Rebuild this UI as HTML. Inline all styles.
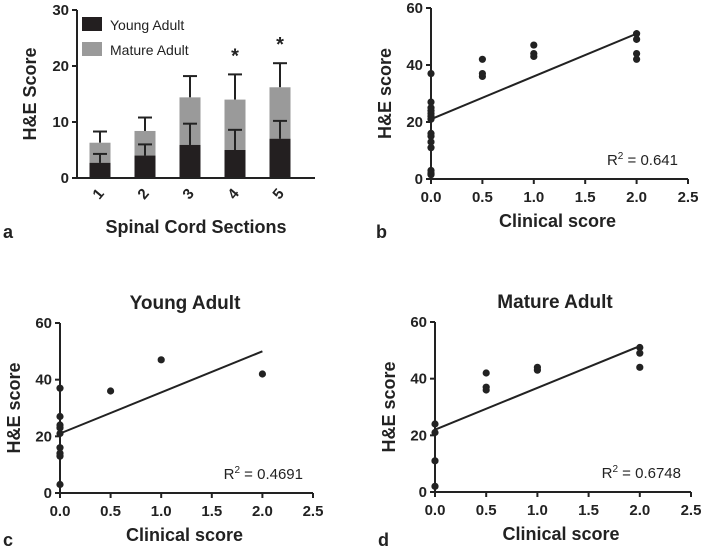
<!DOCTYPE html>
<html><head><meta charset="utf-8"><style>
body{margin:0;background:#fff;}
svg{display:block;font-family:"Liberation Sans",Arial,sans-serif;}
.tk{font-size:15px;font-weight:bold;fill:#222;}
.at{font-size:18px;font-weight:bold;fill:#222;}
</style></head><body>
<svg id="fig" width="702" height="553" viewBox="0 0 702 553"></svg>
<script>
const barCats=["1","2","3","4","5"];
const youngMean=[2.7,4,5.9,5,7];
const youngErr=[4.3,6,9.7,8.6,10.2];
const totalMean=[6.3,8.4,14.4,14,16.2];
const totalErr=[8.3,10.8,18.2,18.5,20.5];
const starFlags=[0,0,0,1,1];
const barTicks=[0,10,20,30];

const bX=[0,0,0,0,0,0,0,0,0,0,0,0,0,0,0.5,0.5,0.5,1,1,1,2,2,2,2];
const bY=[37,27,25,24,23,22,21,16,15,13,11,3,2,1.5,42,37,36,47,44,43,51,49,44,42];
const bFit=[21,51];
const cX=[0,0,0,0,0,0,0,0,0,0.5,1,2];
const cY=[37,27,24,23,21,16,14,13,3,36,47,42];
const cFit=[21,50];
const dX=[0,0,0,0,0.5,0.5,0.5,1,1,2,2,2];
const dY=[24,21,11,2,42,37,36,44,43,51,49,44];
const dFit=[22,51.5];
const scTicksY=[0,20,40,60];
const scTicksX=[0,0.5,1,1.5,2,2.5];

const svg=document.getElementById('fig');
const NS='http://www.w3.org/2000/svg';
function el(tag,attrs,parent){const e=document.createElementNS(NS,tag);for(const k in attrs)e.setAttribute(k,attrs[k]);(parent||svg).appendChild(e);return e;}
function txt(s,attrs,parent){const e=el('text',attrs,parent);e.textContent=s;return e;}

// Panel a
(function(){
  const g=el('g',{});
  
  
  const x0=77,y0=178,yTop=10,xEnd=315;
  const ys=v=>y0-(v/30)*(y0-yTop);
  const xs=i=>100+i*45;
  const bw=21;
  barCats.forEach((c,i)=>{
    const cx=xs(i);
    let e=el('line',{x1:cx,x2:cx,y1:ys(totalErr[i]),y2:ys(totalMean[i]),stroke:'#222','stroke-width':2},g);
    
    
    el('line',{x1:cx-7,x2:cx+7,y1:ys(totalErr[i]),y2:ys(totalErr[i]),stroke:'#222','stroke-width':2},g);
    const r=el('rect',{x:cx-bw/2,y:ys(totalMean[i]),width:bw,height:ys(0)-ys(totalMean[i]),fill:'#9a9a9a'},g);
    
    
    const r2=el('rect',{x:cx-bw/2,y:ys(youngMean[i]),width:bw,height:ys(0)-ys(youngMean[i]),fill:'#231f20'},g);
    
    
    const e2=el('line',{x1:cx,x2:cx,y1:ys(youngErr[i]),y2:ys(youngMean[i]),stroke:'#222','stroke-width':2},g);
    
    
    el('line',{x1:cx-7,x2:cx+7,y1:ys(youngErr[i]),y2:ys(youngErr[i]),stroke:'#222','stroke-width':2},g);
    const t=txt(c,{class:'tk',x:0,y:0,'text-anchor':'middle',transform:`translate(${cx+2},${197}) rotate(-50)`},g);
    
    
    if(starFlags[i]){const s=txt('*',{x:cx,y:ys(totalErr[i])-12,'text-anchor':'middle','font-size':20,'font-weight':'bold',fill:'#222'},g);
      
      }
  });
  el('line',{x1:x0,x2:x0,y1:yTop,y2:y0+1,stroke:'#222','stroke-width':2},g);
  el('line',{x1:x0-1,x2:xEnd,y1:y0,y2:y0,stroke:'#222','stroke-width':2},g);
  barTicks.forEach(v=>{el('line',{x1:x0-5,x2:x0,y1:ys(v),y2:ys(v),stroke:'#222','stroke-width':2},g);
    const t=txt(v,{class:'tk',x:x0-8,y:ys(v)+5,'text-anchor':'end'},g);
    
    });
  const yt=txt('H&E Score',{class:'at',transform:`translate(36,94) rotate(-90)`,'text-anchor':'middle'},g);
  
  
  const xt=txt('Spinal Cord Sections',{class:'at',x:196,y:233,'text-anchor':'middle'},g);
  
  
  const l1=el('rect',{x:82,y:17,width:20,height:14,fill:'#231f20'},g);
  
  
  txt('Young Adult',{x:110,y:30,'font-size':14,fill:'#222'},g);
  const l2=el('rect',{x:82,y:42,width:20,height:14,fill:'#9a9a9a'},g);
  
  
  txt('Mature Adult',{x:110,y:55,'font-size':14,fill:'#222'},g);
  const pl=txt('a',{x:3,y:238,'font-size':18,'font-weight':'bold',fill:'#222'},g);
  
  
})();

function scatter(name,X,Y,fit,x0,y0,yTop,xEnd,r2,label,lx,ly,title,titleX){
  const g=el('g',{});
  
  
  const ys=v=>y0-(v/60)*(y0-yTop);
  const xs=v=>x0+(v/2.5)*(xEnd-x0);
  el('line',{x1:x0,x2:x0,y1:yTop,y2:y0+1,stroke:'#222','stroke-width':2},g);
  el('line',{x1:x0-1,x2:xEnd,y1:y0,y2:y0,stroke:'#222','stroke-width':2},g);
  scTicksY.forEach(v=>{el('line',{x1:x0-5,x2:x0,y1:ys(v),y2:ys(v),stroke:'#222','stroke-width':2},g);
    const t=txt(v,{class:'tk',x:x0-8,y:ys(v)+5,'text-anchor':'end'},g);
    
    });
  scTicksX.forEach(v=>{el('line',{x1:xs(v),x2:xs(v),y1:y0,y2:y0+5,stroke:'#222','stroke-width':2},g);
    const t=txt(v.toFixed(1),{class:'tk',x:xs(v),y:y0+23,'text-anchor':'middle'},g);
    
    });
  const fl=el('line',{x1:xs(0),y1:ys(fit[0]),x2:xs(2),y2:ys(fit[1]),stroke:'#222','stroke-width':2},g);
  
  
  X.forEach((x,i)=>{const c=el('circle',{cx:xs(x),cy:ys(Y[i]),r:3.6,fill:'#222'},g);
    
    });
  const rt=el('text',{x:xEnd-10,y:y0-14,'text-anchor':'end','font-size':15,fill:'#222'},g);
  rt.innerHTML='R<tspan dy="-6" font-size="10">2</tspan><tspan dy="6"> = '+r2+'</tspan>';
  
  
  const yt=txt('H&E score',{class:'at',transform:`translate(${x0-40},${(y0+yTop)/2}) rotate(-90)`,'text-anchor':'middle'},g);
  
  
  const xt=txt('Clinical score',{class:'at',x:(x0+xEnd)/2-2,y:y0+48,'text-anchor':'middle'},g);
  
  
  const pl=txt(label,{x:lx,y:ly,'font-size':18,'font-weight':'bold',fill:'#222'},g);
  
  
  if(title){const tt=txt(title,{x:titleX,y:yTop-14,'text-anchor':'middle','font-size':19,'font-weight':'bold',fill:'#222'},g);
    
    }
}
scatter('panel-b-scatter',bX,bY,bFit,431,179,8,688,'0.641','b',376,238,null,0);
scatter('panel-c-scatter',cX,cY,cFit,60,493,323,313,'0.4691','c',3,546,'Young Adult',185);
scatter('panel-d-scatter',dX,dY,dFit,435,492,322,691,'0.6748','d',378,546,'Mature Adult',555);
</script>
</body></html>
